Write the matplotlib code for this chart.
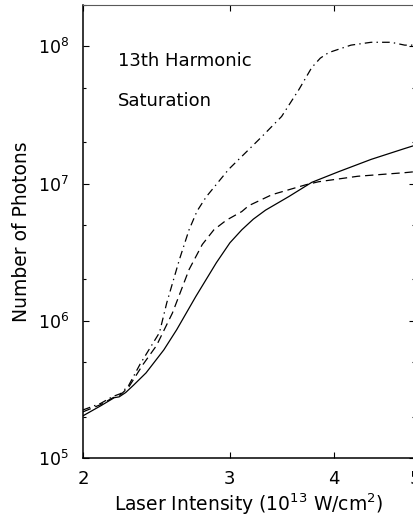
import numpy as np
import matplotlib
matplotlib.use('Agg')
import matplotlib.pyplot as plt
import matplotlib.ticker as mticker

plt.rcParams['font.family'] = ['DejaVu Sans']
plt.rcParams['lines.scale_dashes'] = False

# intensity in 1e13 W/cm^2, photon numbers
solid_x = [2.0, 2.1, 2.18, 2.21, 2.25, 2.3, 2.38, 2.5, 2.59, 2.73, 2.89,
           3.0, 3.1, 3.2, 3.31, 3.53, 3.76, 4.05, 4.43, 4.86, 5.0]
solid_y = [2.03e5, 2.4e5, 2.75e5, 2.79e5, 3.0e5, 3.4e5, 4.17e5, 6.14e5,
           8.6e5, 1.5e6, 2.65e6, 3.7e6, 4.6e6, 5.5e6, 6.4e6, 8.04e6,
           1.02e7, 1.22e7, 1.5e7, 1.8e7, 1.9e7]

dash_x = [2.0, 2.1, 2.17, 2.22, 2.27, 2.36, 2.45, 2.56, 2.68, 2.78, 2.87,
          2.97, 3.1, 3.16, 3.37, 3.7, 3.83, 4.27, 4.86, 5.0]
dash_y = [2.17e5, 2.45e5, 2.74e5, 2.9e5, 3.3e5, 4.8e5, 6.6e5, 1.14e6,
          2.36e6, 3.6e6, 4.6e6, 5.4e6, 6.25e6, 6.9e6, 8.3e6, 9.8e6,
          1.03e7, 1.13e7, 1.2e7, 1.22e7]

dd_x = [2.0, 2.1, 2.17, 2.22, 2.27, 2.34, 2.42, 2.47, 2.52, 2.61, 2.68,
        2.74, 2.81, 2.99, 3.27, 3.46, 3.63, 3.76, 3.85, 3.94, 4.19, 4.43,
        4.68, 4.86, 5.0]
dd_y = [2.24e5, 2.5e5, 2.8e5, 2.95e5, 3.4e5, 4.8e5, 6.7e5, 8.2e5, 1.35e6,
        2.8e6, 4.6e6, 6.3e6, 8.0e6, 1.27e7, 2.17e7, 3.08e7, 4.85e7, 7.0e7,
        8.2e7, 9.0e7, 1.02e8, 1.07e8, 1.07e8, 1.02e8, 1.02e8]

x_ticks = [2, 3, 4, 5]

fig = plt.figure(figsize=(4.14, 5.16), dpi=100)
ax = fig.add_axes([83/414, 1 - 458/516, 332/414, 453/516])

ax.plot(solid_x, solid_y, color='k', lw=0.9)
ax.plot(dash_x, dash_y, color='k', lw=0.9, dashes=(6, 3.5))
ax.plot(dd_x, dd_y, color='k', lw=0.9, dashes=(5.5, 3, 1, 3))

ax.set_xscale('log')
ax.set_yscale('log')
ax.set_xlim(2, 5)
ax.set_ylim(1e5, 2e8)

ax.xaxis.set_major_locator(mticker.FixedLocator(x_ticks))
ax.xaxis.set_major_formatter(mticker.FixedFormatter([str(t) for t in x_ticks]))
ax.xaxis.set_minor_locator(mticker.NullLocator())
ax.yaxis.set_major_locator(mticker.LogLocator(base=10))
ax.yaxis.set_minor_locator(mticker.LogLocator(base=10, subs=(2, 5)))
ax.yaxis.set_minor_formatter(mticker.NullFormatter())

ax.tick_params(which='both', direction='in', top=True, right=True, width=0.8)
ax.tick_params(which='major', length=4.5)
ax.tick_params(which='minor', length=2.5)
ax.tick_params(axis='x', labelsize=13, pad=9)
ax.tick_params(axis='y', labelsize=12.5, pad=10)

for s in ['left', 'bottom']:
    ax.spines[s].set_linewidth(1.1)
ax.spines['top'].set_color('0.35')

ax.set_ylabel('Number of Photons', fontsize=13.5, labelpad=5)
ax.set_xlabel('Laser Intensity ($\\mathregular{10^{13}}$ W/cm$\\mathregular{^2}$)',
              fontsize=13.5, labelpad=2)

ax.text(0.105, 0.865, '13th Harmonic', transform=ax.transAxes,
        fontsize=13, va='baseline')
ax.text(0.105, 0.777, 'Saturation', transform=ax.transAxes,
        fontsize=13, va='baseline')

plt.savefig('out.png', dpi=100)
